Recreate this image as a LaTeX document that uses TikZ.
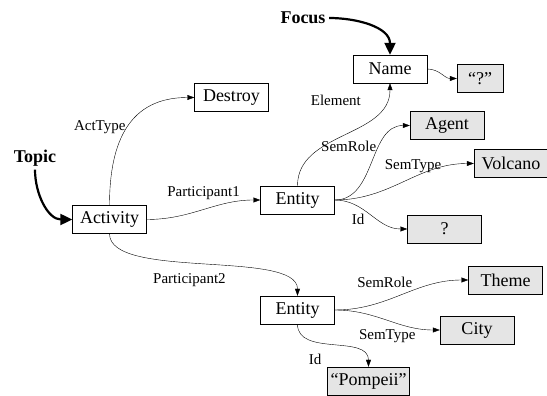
\documentclass[tikz,border=0pt]{standalone}
\usepackage{fontspec}
\setmainfont{Liberation Serif}
\usetikzlibrary{positioning,arrows.meta}

\begin{document}
\begin{tikzpicture}[x=1pt,y=1pt,on grid,
        >={Triangle[length=7pt,width=5pt]},
        frame/.style={draw,rectangle,minimum width=74pt,minimum height=28pt,
                      inner xsep=3pt,font=\fontsize{18}{20}\selectfont},
        filler/.style={frame,fill=gray!20},
        tag/.style={font=\fontsize{15}{17}\selectfont,inner sep=1pt},
        marker/.style={font=\bfseries\fontsize{18}{20}\selectfont},
        pointer/.style={line width=2.2pt,-{Triangle[length=12pt,width=11pt]}}]
  \useasboundingbox (0,0) rectangle (547,396);
  \node[frame]  (act)                                          at (109.5,176.5) {Activity};
  \node[frame]  (dest)  [above right=122pt and 122pt of act]   {Destroy};
  \node[frame]  (ent1)  [above right=19.5pt and 188pt of act]  {Entity};
  \node[frame]  (name)  [above right=131pt and 92.5pt of ent1] {Name};
  \node[filler,minimum width=46pt] (qn) [below right=9.5pt and 90pt of name] {“?”};
  \node[filler] (agent) [above right=74.5pt and 149.5pt of ent1] {Agent};
  \node[filler] (volc)  [above right=36.5pt and 213.5pt of ent1] {Volcano};
  \node[filler] (unk)   [below right=29pt and 147pt of ent1]   {?};
  \node[frame]  (ent2)  [below=110pt of ent1]                  {Entity};
  \node[filler] (theme) [above right=30pt and 208pt of ent2]   {Theme};
  \node[filler] (city)  [below right=20pt and 179.5pt of ent2] {City};
  \node[filler] (pomp)  [below right=71pt and 71pt of ent2]    {“Pompeii”};
  \node[marker] (topic) [above left=61.5pt and 74.5pt of act]  {Topic};
  \node[marker] (foc)   [above left=51pt and 87pt of name]     {Focus};

  \draw[pointer] (topic.south) to [out=-90,in=180] (act.west);
  \draw[pointer] (foc.east) to [out=0,in=90] (name.north);

  \path[->] (act.north) edge [out=90,in=180,looseness=1.2] node [tag,pos=0.5,left=1pt] {ActType} (dest.west)
            (act.east)  edge [out=0,in=180] node [tag,midway,above=9pt] {Participant1} (ent1.west)
            (act.south) edge [out=-90,in=90,looseness=0.6] node [tag,pos=0.45,below=9pt] {Participant2} (ent2.north)
            (ent1.north) edge [out=90,in=-90] node [tag,pos=0.7,above left=12pt and 8pt] {Element} (name.south)
            (name.east) edge [out=0,in=180] (qn.west)
            (ent1.east) edge [out=0,in=180] node [tag,pos=0.6,above left=-1pt and 0pt] {SemRole} (agent.west)
                        edge [out=0,in=180] node [tag,pos=0.57,above=4pt] {SemType} (volc.west)
                        edge [out=0,in=180] node [tag,pos=0.3,below=7pt] {Id} (unk.west)
            (ent2.east) edge [out=0,in=180] node [tag,pos=0.55,above left=4pt and -6pt] {SemRole} (theme.west)
                        edge [out=0,in=180] node [tag,pos=0.5,below=8pt] {SemType} (city.west)
            (ent2.south) edge [out=-90,in=90] node [tag,pos=0.4,below left=9pt and 0pt] {Id} (pomp.north);
\end{tikzpicture}
\end{document}
